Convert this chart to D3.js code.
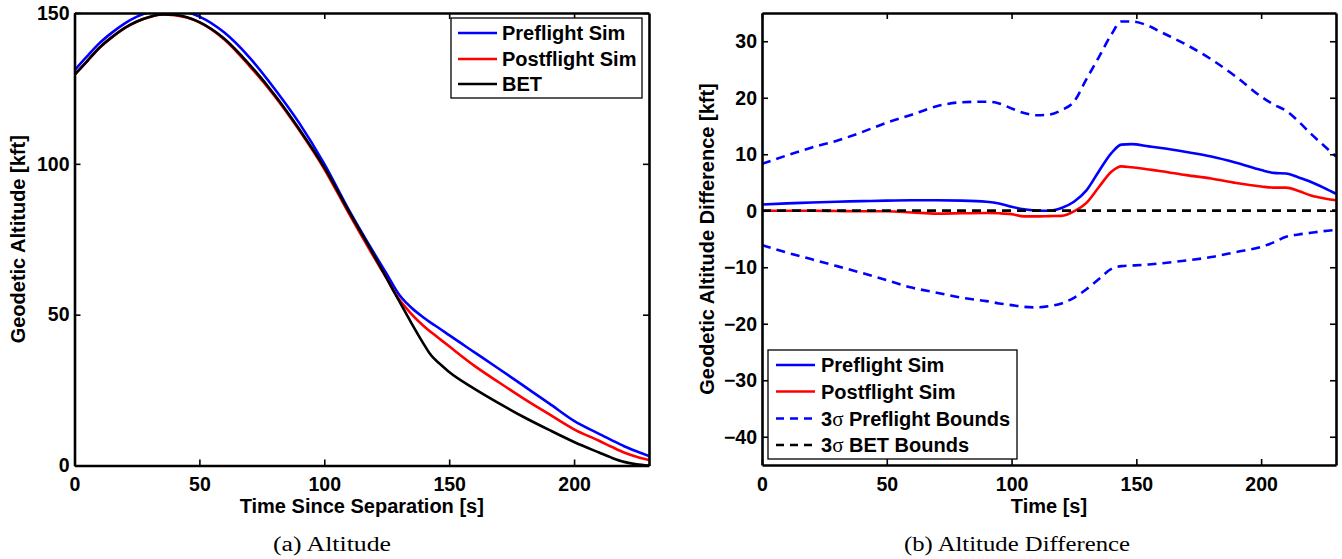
<!DOCTYPE html>
<html><head><meta charset="utf-8">
<script src="https://cdn.jsdelivr.net/npm/d3@7"></script>
<style>
body{margin:0;background:#fff;}
svg text{font-family:"Liberation Sans",Arial,sans-serif;font-weight:bold;fill:#000;}
</style></head><body>
<svg id="c" width="1342" height="559"></svg>
<script>
// ---------- Panel (a): Altitude ----------
const altTime = [0,5,10,15,20,25,30,35,40,45,50,60,70,80,90,100,110,120,125,128,130,133,135,140,142,144,146,150,160,170,180,190,200,210,215,220,225,230];
const altPreflight = [131,135.6,140,143.5,146.5,148.8,150.3,151.1,151.1,150.3,148.8,143.5,135.3,125,113.5,100,84.5,70.3,63.5,59.2,56.6,53.8,52.2,48.9,47.7,46.6,45.5,43.2,37.6,32,26.3,20.6,14.8,10.5,8.4,6.4,4.7,3.1];
const altPostflight = [129.5,134,138.5,142,145,147.2,148.7,149.5,149.3,148.5,146.9,141.2,132.5,122.6,111.1,98.3,83.3,68.9,62,57.5,55,52,50.1,46.1,44.7,43.4,42.1,39.5,33.1,27.5,22.1,17,12,8.2,6.2,4.3,2.9,1.8];
const altBET = [129.5,134,138.5,142,145,147.2,148.7,149.5,149.4,148.6,147,141.5,133,123,111.5,98.8,84,69.5,62,57.5,54.5,50,47,40,37.4,35.4,33.9,31,25.5,20.6,16,11.8,7.8,4.3,2.6,1.2,0.4,0];
const altXTicks = [0,50,100,150,200];
const altYTicks = [0,50,100,150];

// ---------- Panel (b): Altitude Difference ----------
const diffTime = [0,10,20,30,40,50,60,70,80,90,95,100,105,110,115,120,125,130,135,140,144,148,155,160,170,180,190,200,205,210,215,220,225,230];
const diffPreflight = [1.1,1.3,1.45,1.6,1.7,1.8,1.85,1.85,1.8,1.6,1.3,0.7,0.25,0.05,0.0,0.5,1.6,3.6,7.0,10.2,11.7,11.8,11.4,11.1,10.4,9.6,8.5,7.2,6.7,6.6,5.9,5.1,4.1,3.0];
const diffPostflight = [0,0,0,-0.05,-0.1,-0.1,-0.3,-0.5,-0.45,-0.4,-0.45,-0.6,-1.0,-1.0,-0.95,-0.9,-0.1,1.4,4.2,6.9,7.85,7.7,7.3,7.0,6.3,5.7,4.9,4.3,4.1,4.1,3.5,2.7,2.2,1.85];
const boundPreUpper = [8.3,9.8,11.2,12.4,13.9,15.6,17.0,18.5,19.2,19.3,19.0,18.1,17.3,16.9,17.0,17.8,19.3,23.3,27.2,31.2,33.5,33.5,32.7,31.6,29.4,26.8,23.7,20.2,18.8,17.7,15.8,13.6,11.6,9.6];
const boundPreLower = [-6.1,-7.4,-8.6,-9.8,-11.0,-12.3,-13.6,-14.5,-15.4,-16.0,-16.4,-16.7,-17.0,-17.1,-16.9,-16.4,-15.4,-13.9,-12.1,-10.3,-9.8,-9.7,-9.5,-9.3,-8.8,-8.2,-7.3,-6.4,-5.6,-4.6,-4.2,-3.9,-3.6,-3.4];
const boundBETTime = [0,230];
const boundBETUpper = [0,0];
const boundBETLower = [0,0];
const diffXTicks = [0,50,100,150,200];
const diffYTicks = [-40,-30,-20,-10,0,10,20,30];

const svg = d3.select('#c');
const fmt = d3.format('d');

function panel(id, box, xDom, yDom, xTicks, yTicks, xTitle, yTitle, yTitleX, caption, captionX, captionW) {
  const x = d3.scaleLinear().domain(xDom).range([box.x0, box.x1]);
  const y = d3.scaleLinear().domain(yDom).range([box.y1, box.y0]);
  const g = svg.append('g');
  g.append('clipPath').attr('id', 'clip' + id).append('rect')
    .attr('x', box.x0).attr('y', box.y0).attr('width', box.x1 - box.x0).attr('height', box.y1 - box.y0);
  const plot = g.append('g').attr('clip-path', `url(#clip${id})`);

  const axB = g.append('g').attr('transform', `translate(0,${box.y1})`)
    .call(d3.axisBottom(x).tickValues(xTicks).tickSize(-6).tickSizeOuter(0).tickPadding(12).tickFormat(fmt));
  const axT = g.append('g').attr('transform', `translate(0,${box.y0})`)
    .call(d3.axisTop(x).tickValues(xTicks).tickSize(-6).tickSizeOuter(0).tickFormat(() => ''));
  const axL = g.append('g').attr('transform', `translate(${box.x0},0)`)
    .call(d3.axisLeft(y).tickValues(yTicks).tickSize(-6).tickSizeOuter(0).tickPadding(5).tickFormat(fmt));
  const axR = g.append('g').attr('transform', `translate(${box.x1},0)`)
    .call(d3.axisRight(y).tickValues(yTicks).tickSize(-6).tickSizeOuter(0).tickFormat(() => ''));
  [axB, axT, axL, axR].forEach(a => {
    a.attr('font-family', null).attr('font-size', null);
    a.select('.domain').attr('stroke', '#000').attr('stroke-width', 2.6);
    a.selectAll('.tick line').attr('stroke', '#000').attr('stroke-width', 1.6);
    a.selectAll('.tick text').style('font-size', '19.5px').attr('fill', '#000');
  });

  g.append('text').attr('x', (box.x0 + box.x1) / 2).attr('y', 513)
    .attr('text-anchor', 'middle').style('font-size', '20px').text(xTitle);
  g.append('text').attr('transform', `translate(${yTitleX},${(box.y0 + box.y1) / 2}) rotate(-90)`)
    .attr('text-anchor', 'middle').style('font-size', '20px').text(yTitle);
  g.append('text').attr('x', captionX).attr('y', 551).attr('text-anchor', 'middle')
    .attr('textLength', captionW).attr('lengthAdjust', 'spacingAndGlyphs')
    .style('font-family', '"Liberation Serif","Times New Roman",serif').style('font-weight', 'normal')
    .style('font-size', '20px').text(caption);
  return {x, y, g, plot};
}

function drawLine(p, xs, ys, color, dashed, width) {
  const line = d3.line().x((d, i) => p.x(xs[i])).y(d => p.y(d)).curve(d3.curveMonotoneX);
  p.plot.append('path').datum(ys).attr('d', line).attr('fill', 'none')
    .attr('stroke', color).attr('stroke-width', width || 2.6)
    .attr('stroke-dasharray', dashed ? '9,6' : null).attr('stroke-linejoin', 'round');
}

function legend(p, bx, by, bw, bh, rowY, lineX0, lineX1, textX, items) {
  p.g.append('rect').attr('x', bx).attr('y', by).attr('width', bw).attr('height', bh)
    .attr('fill', '#fff').attr('stroke', '#000').attr('stroke-width', 1.3);
  items.forEach((it, i) => {
    const yy = rowY[i];
    p.g.append('line').attr('x1', lineX0).attr('x2', lineX1).attr('y1', yy).attr('y2', yy)
      .attr('stroke', it.color).attr('stroke-width', 2.4).attr('stroke-dasharray', it.dashed ? '8,6' : null);
    const t = p.g.append('text').attr('x', textX).attr('y', yy).attr('dy', '0.36em').style('font-size', '20px');
    if (it.sigma) {
      t.append('tspan').text('3');
      t.append('tspan').text('σ').style('font-family', '"Liberation Serif",serif').style('font-weight', 'normal').style('font-size', '21px');
      t.append('tspan').text(' ' + it.label);
    } else {
      t.text(it.label);
    }
  });
}

// Panel (a)
const pa = panel('a', {x0: 74.5, x1: 649, y0: 13, y1: 465.5}, [0, 230], [0, 150], altXTicks, altYTicks,
  'Time Since Separation [s]', 'Geodetic Altitude [kft]', 24.5, '(a)  Altitude', 332, 118);
drawLine(pa, altTime, altPreflight, '#0000ff');
drawLine(pa, altTime, altPostflight, '#ff0000');
drawLine(pa, altTime, altBET, '#000000');
legend(pa, 451, 18, 191, 80, [33, 59, 84], 458, 497, 502, [
  {label: 'Preflight Sim', color: '#0000ff'},
  {label: 'Postflight Sim', color: '#ff0000'},
  {label: 'BET', color: '#000000'}
]);

// Panel (b)
const pb = panel('b', {x0: 762, x1: 1336, y0: 13, y1: 465}, [0, 230], [-45, 35], diffXTicks, diffYTicks,
  'Time [s]', 'Geodetic Altitude Difference [kft]', 713.5, '(b)  Altitude Difference', 1017, 226);
drawLine(pb, diffTime, diffPreflight, '#0000ff');
drawLine(pb, diffTime, diffPostflight, '#ff0000');
drawLine(pb, diffTime, boundPreUpper, '#0000ff', true);
drawLine(pb, diffTime, boundPreLower, '#0000ff', true);
drawLine(pb, boundBETTime, boundBETUpper, '#000000', true);
drawLine(pb, boundBETTime, boundBETLower, '#000000', true);
legend(pb, 768, 350, 249, 109, [365, 391.5, 418.5, 445], 776, 815, 821, [
  {label: 'Preflight Sim', color: '#0000ff'},
  {label: 'Postflight Sim', color: '#ff0000'},
  {label: 'Preflight Bounds', color: '#0000ff', dashed: true, sigma: true},
  {label: 'BET Bounds', color: '#000000', dashed: true, sigma: true}
]);
</script>
</body></html>
